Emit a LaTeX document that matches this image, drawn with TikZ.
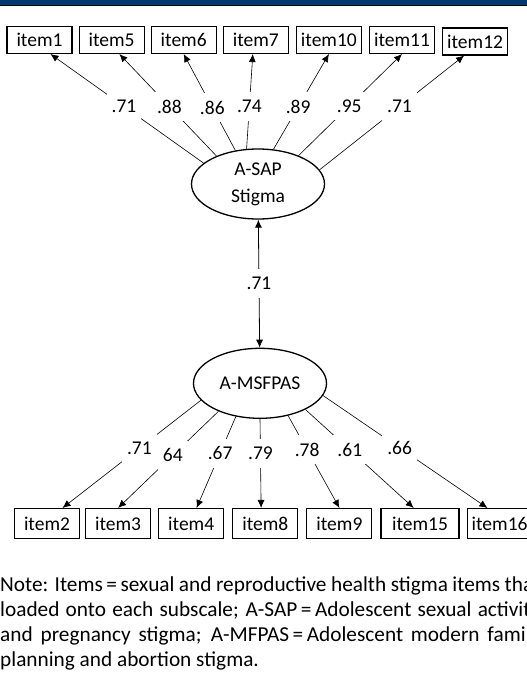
\documentclass[tikz,border=0pt]{standalone}
\usepackage{fontspec}
\setmainfont{Carlito}
\usetikzlibrary{shapes,arrows.meta,positioning}
\tikzset{>={Latex[length=8pt,width=7pt]}}
\definecolor{barblue}{RGB}{0,58,112}
\tikzstyle{item} = [draw, rectangle, line width=1.1pt, minimum width=65pt,
    minimum height=27pt, inner sep=0pt, font=\fontsize{19.5}{21}\selectfont]
\tikzstyle{latent} = [draw, ellipse, line width=1.3pt, minimum width=133pt,
    minimum height=70pt, inner sep=0pt, align=center,
    font=\fontsize{19.5}{27}\selectfont]
\tikzstyle{load} = [fill=white, inner xsep=5pt, inner ysep=8pt,
    text depth=0pt, font=\fontsize{19.5}{21}\selectfont]
\tikzstyle{path} = [line width=0.6pt]

\begin{document}
\begin{tikzpicture}[x=1pt,y=-1pt]
    \useasboundingbox (0,0) rectangle (527,686);
    \fill [barblue] (0,0) rectangle (527,5);
    \fill [black] (0,5) rectangle (527,6.3);
    % upper subscale
    \node [item] (item1) at (39.5,40) {item1};
    \node [item,right=6pt of item1] (item5) {item5};
    \node [item,right=6pt of item5] (item6) {item6};
    \node [item,right=6pt of item6] (item7) {item7};
    \node [item,right=7pt of item7] (item10) {item10};
    \node [item,right=7pt of item10] (item11) {item11};
    \node [item,right=7pt of item11,yshift=-1.5pt] (item12) {item12};
    \node [latent] (sap) at (258,184) {A-SAP\\Stigma};
    % lower subscale
    \node [latent,below=128pt of sap,xshift=2pt] (msf) {A-MSFPAS};
    \node [item,minimum height=30pt] (item2) at (47,523.5) {item2};
    \node [item,minimum height=30pt,right=5pt of item2] (item3) {item3};
    \node [item,minimum height=30pt,right=7pt of item3] (item4) {item4};
    \node [item,minimum height=30pt,right=8pt of item4] (item8) {item8};
    \node [item,minimum height=30pt,right=8pt of item8] (item9) {item9};
    \node [item,minimum height=30pt,minimum width=78pt,right=8pt of item9] (item15) {item15};
    \node [item,minimum height=30pt,right=7pt of item15] (item16) {item16};
    \draw [path,->] (sap.159.6) -- node [load,pos=.52] {.71} (item1.-52);
    \draw [path,->] (sap.146.3) -- node [load,pos=.485] {.88} (item5.-61);
    \draw [path,->] (sap.124.3) -- node [load,pos=.446] {.86} (item6.south);
    \draw [path,->] (sap.108.6) -- node [load,pos=.446] {.74} (item7.-102);
    \draw [path,->] (sap.66.9) -- node [load,pos=.446] {.89} (item10.south);
    \draw [path,->] (sap.35.3) -- node [load,pos=.49] {.95} (item11.south);
    \draw [path,->] (sap.13.5) -- node [load,pos=.553] {.71} (item12.-128);
    \draw [line width=0.8pt,<->] (sap) -- node [load] {.71} (msf);
    \draw [path,->] (msf.196.8) -- node [load,pos=.445] {.71} (item2.45);
    \draw [path,->] (msf.214.4) -- node [load,pos=.455] {64} (item3.north);
    \draw [path,->] (msf.234.9) -- node [load,pos=.40] {.67} (item4.71.6);
    \draw [path,->] (msf.270.8) -- node [load,pos=.39] {.79} (item8.105);
    \draw [path,->] (msf.311.4) -- node [load,pos=.37] {.78} (item9.north);
    \draw [path,->] (msf.330.9) -- node [load,pos=.41] {.61} (item15.112);
    \draw [path,->] (msf.349.2) -- node [load,pos=.466] {.66} (item16.128.7);
    % note under the figure
    \node [anchor=north west,inner sep=0pt,text width=540pt,align=justify,
        font=\fontsize{21.3}{24.7}\selectfont] (note) at (0,577)
        {Note: Items\,=\,sexual and reproductive health stigma items that\linebreak
        loaded onto each subscale; A-SAP\,=\,Adolescent sexual activity\linebreak
        and pregnancy stigma; A-MFPAS\,=\,Adolescent modern family\linebreak
        planning and abortion stigma.};
\end{tikzpicture}
\end{document}
